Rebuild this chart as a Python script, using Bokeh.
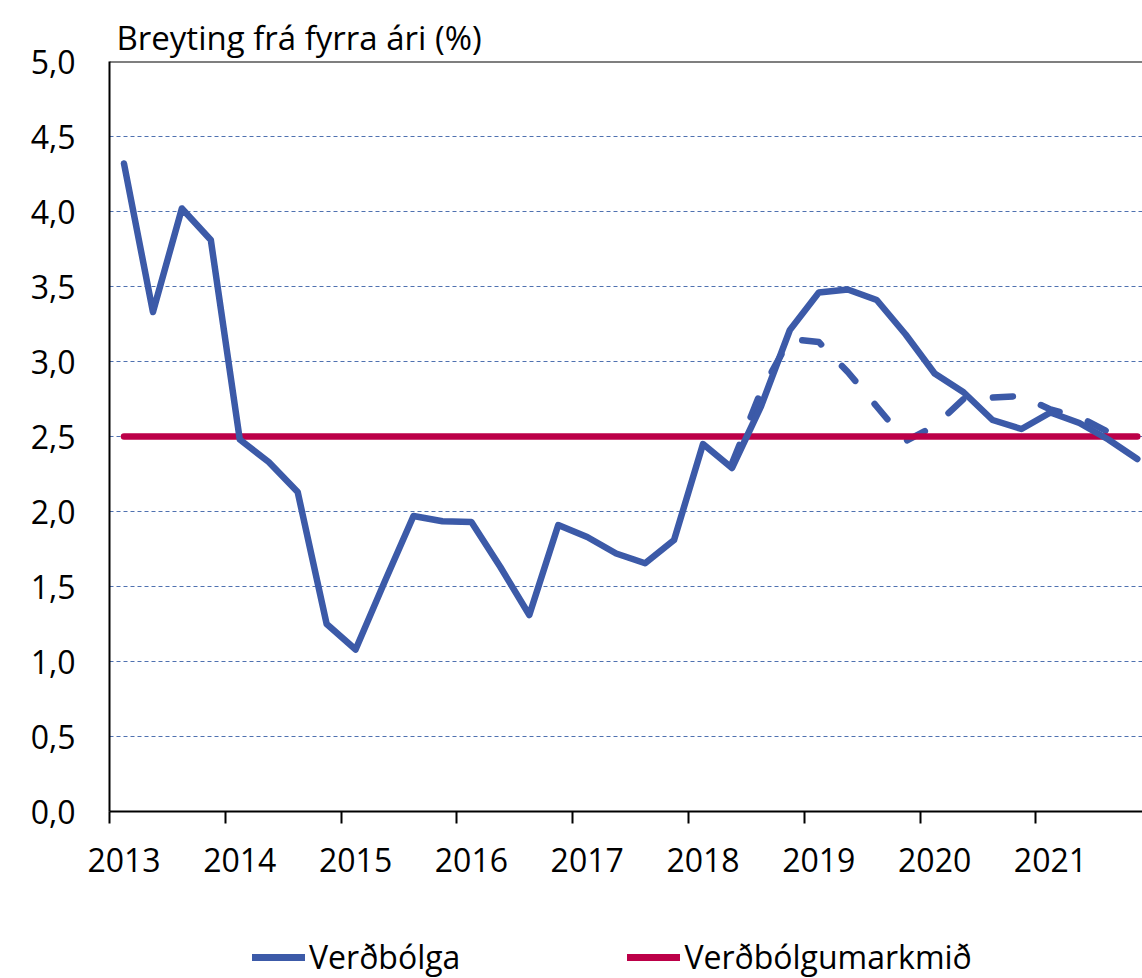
from bokeh.plotting import figure
from bokeh.layouts import column
from bokeh.models import Range1d, FixedTicker, LinearAxis, Legend, LegendItem, Span, ColumnDataSource
from bokeh.embed import file_html
from bokeh.resources import INLINE

# ---- data ----
years = ["2013", "2014", "2015", "2016", "2017", "2018", "2019", "2020", "2021"]
quarter_index = list(range(36))  # 2013Q1 .. 2021Q4

inflation = [4.32, 3.33, 4.02, 3.81, 2.48, 2.33, 2.13, 1.25, 1.08, 1.53,
             1.97, 1.935, 1.93, 1.63, 1.31, 1.91, 1.83, 1.72, 1.655, 1.81,
             2.45, 2.29, 2.70, 3.21, 3.46, 3.48, 3.41, 3.18, 2.92, 2.795,
             2.61, 2.55, 2.66, 2.59, 2.48, 2.35]

forecast_index = list(range(21, 35))  # 2018Q2 .. 2021Q3
forecast = [2.32, 2.80, 3.15, 3.13, 2.93, 2.70, 2.47, 2.57, 2.75, 2.76,
            2.77, 2.68, 2.63, 2.53]

target_index = [0, 35]
target = [2.5, 2.5]

y_ticks = [0.0, 0.5, 1.0, 1.5, 2.0, 2.5, 3.0, 3.5, 4.0, 4.5, 5.0]
y_tick_labels = ["0,0", "0,5", "1,0", "1,5", "2,0", "2,5", "3,0", "3,5", "4,0", "4,5", "5,0"]

title_text = "Breyting frá fyrra ári (%)"
label_inflation = "Verðbólga"
label_target = "Verðbólgumarkmið"

BLUE = "#3C5AA8"
RED = "#BC0048"
FONT = "Open Sans"

MAIN_H = 900
LEG_H = 78

# ---- main figure ----
p = figure(width=1142, height=MAIN_H, output_backend="svg", toolbar_location=None,
           x_range=Range1d(0, 35.68), y_range=Range1d(0, 5),
           min_border_left=109, min_border_right=0, min_border_top=61,
           min_border_bottom=MAIN_H - 811)
p.outline_line_color = None
p.background_fill_color = "white"
p.border_fill_color = "white"

p.title.text = title_text
p.title.text_font = FONT
p.title.text_font_size = "33px"
p.title.text_font_style = "normal"
p.title.text_color = "black"
p.title.align = "left"
p.title.offset = 7
p.title.standoff = 3

# grid
p.xgrid.visible = False
p.ygrid.ticker = FixedTicker(ticks=[t for t in y_ticks if 0 < t < 5])
p.ygrid.grid_line_color = "#4F71B0"
p.ygrid.grid_line_dash = "4 3"
p.ygrid.grid_line_width = 1

# y axis
ya = p.yaxis[0]
ya.ticker = FixedTicker(ticks=y_ticks)
ya.major_label_overrides = {t: l for t, l in zip(y_ticks, y_tick_labels)}
ya.major_tick_out = 0
ya.major_tick_in = 0
ya.minor_tick_line_color = None
ya.axis_line_width = 2
ya.axis_line_color = "black"
ya.major_label_standoff = 34
ya.major_label_text_font = FONT
ya.major_label_text_font_size = "32px"
ya.major_label_text_color = "black"

# x axis: tick marks at year boundaries (no labels of its own)
xa = p.xaxis[0]
xa.ticker = FixedTicker(ticks=[4 * k for k in range(len(years))])
xa.major_label_overrides = {4 * k: "" for k in range(len(years))}
xa.major_tick_out = 12
xa.major_tick_in = 0
xa.major_tick_line_width = 2
xa.major_tick_line_color = "black"
xa.minor_tick_line_color = None
xa.axis_line_width = 2
xa.axis_line_color = "black"
xa.major_label_text_font_size = "1px"
xa.major_label_text_color = None
xa.major_label_standoff = 0

# x axis labels centred on the first quarter of each year
label_pos = [4 * k + 0.5 for k in range(len(years))]
xa2 = LinearAxis(ticker=FixedTicker(ticks=label_pos),
                 major_label_overrides={pos: y for pos, y in zip(label_pos, years)})
xa2.axis_line_color = None
xa2.major_tick_line_color = None
xa2.minor_tick_line_color = None
xa2.major_tick_out = 0
xa2.major_tick_in = 0
xa2.major_label_standoff = 24
xa2.major_label_text_font = FONT
xa2.major_label_text_font_size = "32px"
xa2.major_label_text_color = "black"
p.add_layout(xa2, "below")

# top border
p.add_layout(Span(location=5.0, dimension="width", line_color="black", line_width=2))

# ---- series ----
src = ColumnDataSource(dict(x=[i + 0.5 for i in quarter_index], y=inflation))
src_f = ColumnDataSource(dict(x=[i + 0.5 for i in forecast_index], y=forecast))
src_t = ColumnDataSource(dict(x=[i + 0.5 for i in target_index], y=target))

p.line("x", "y", source=src_f, line_color=BLUE, line_width=6.5,
       line_dash="20 30", line_cap="round", line_join="round")
p.line("x", "y", source=src_t, line_color=RED, line_width=6.5, line_cap="round")
p.line("x", "y", source=src, line_color=BLUE, line_width=6.5,
       line_cap="round", line_join="round")

# ---- legend strip (frame is aligned with the main frame by the column) ----
lg = figure(width=1142, height=LEG_H, output_backend="svg", toolbar_location=None,
            x_range=Range1d(0, 1), y_range=Range1d(0, 1),
            min_border=0, x_axis_type=None, y_axis_type=None)
lg.outline_line_color = None
lg.xgrid.visible = False
lg.ygrid.visible = False
# legend-only renderers, kept outside the visible range
hidden = ColumnDataSource(dict(x=[-10, -9], y=[-10, -10]))
l1 = lg.line("x", "y", source=hidden, line_color=BLUE, line_width=7, line_cap="round")
l2 = lg.line("x", "y", source=hidden, line_color=RED, line_width=7, line_cap="round")

legend = Legend(items=[LegendItem(label=label_inflation, renderers=[l1]),
                       LegendItem(label=label_target, renderers=[l2])],
                orientation="horizontal", location=(143, 0),
                glyph_width=53, glyph_height=20, label_standoff=4, spacing=167,
                padding=0, margin=0, border_line_color=None,
                background_fill_alpha=0,
                label_text_font=FONT, label_text_font_size="32px",
                label_text_color="black")
lg.add_layout(legend, "center")

open("out.html", "w").write(file_html(column(p, lg, spacing=0), INLINE))
